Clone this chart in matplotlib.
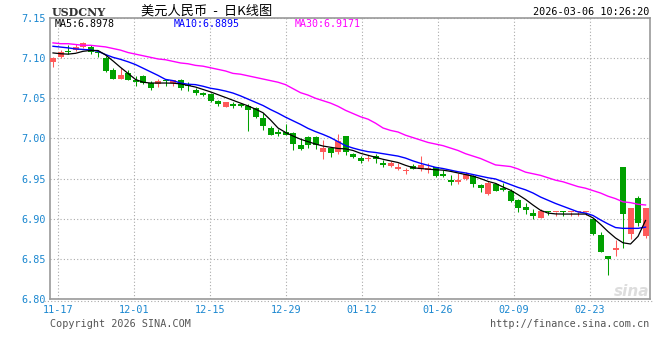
import numpy as np
import matplotlib
matplotlib.use('Agg')
import matplotlib.pyplot as plt
from matplotlib.lines import Line2D

plt.rcParams['font.family'] = ['DejaVu Sans', 'Noto Sans CJK SC']

# daily candles USDCNY, 11-17 .. 03-06
opens = [7.0954, 7.1017, 7.1077, 7.1104, 7.1138, 7.1142, 7.1069, 7.1004, 7.0854, 7.0746,
         7.0817, 7.0733, 7.0775, 7.0692, 7.0679, 7.0725, 7.0692, 7.0733, 7.0658, 7.0608,
         7.0563, 7.0554, 7.0467, 7.0396, 7.0429, 7.0425, 7.0408, 7.0383, 7.0250, 7.0133,
         7.0075, 7.0075, 7.0063, 6.9917, 7.0021, 7.0021, 6.9833, 6.9875, 6.9825, 7.0029,
         6.9804, 6.9758, 6.9738, 6.9783, 6.9696, 6.9658, 6.9617, 6.9592, 6.9658, 6.9613,
         6.9604, 6.9638, 6.9554, 6.9479, 6.9458, 6.9500, 6.9529, 6.9417, 6.9313, 6.9438,
         6.9388, 6.9346, 6.9229, 6.9146, 6.9067, 6.9004, 6.9096, 6.9087, 6.9092, 6.9087,
         6.9087, 6.9087, 6.9000, 6.8792, 6.8533, 6.8608, 6.9638, 6.8804, 6.9254, 6.8783]
closes = [7.1004, 7.1079, 7.1073, 7.1142, 7.1192, 7.1079, 7.1065, 7.0846, 7.0746, 7.0788,
          7.0733, 7.0704, 7.0692, 7.0629, 7.0721, 7.0713, 7.0725, 7.0629, 7.0650, 7.0567,
          7.0546, 7.0471, 7.0425, 7.0450, 7.0408, 7.0408, 7.0358, 7.0267, 7.0154, 7.0042,
          7.0058, 7.0042, 6.9929, 6.9867, 6.9917, 6.9917, 6.9883, 6.9821, 6.9967, 6.9825,
          6.9771, 6.9725, 6.9758, 6.9742, 6.9675, 6.9696, 6.9646, 6.9596, 6.9625, 6.9675,
          6.9633, 6.9529, 6.9533, 6.9458, 6.9488, 6.9563, 6.9429, 6.9383, 6.9446, 6.9346,
          6.9358, 6.9221, 6.9129, 6.9104, 6.9033, 6.9096, 6.9083, 6.9088, 6.9083, 6.9088,
          6.9088, 6.9089, 6.8813, 6.8583, 6.8500, 6.8638, 6.9054, 6.9129, 6.8942, 6.9129]
highs = [7.1020, 7.1096, 7.1163, 7.1171, 7.1204, 7.1163, 7.1096, 7.1025, 7.0879, 7.0871,
         7.0858, 7.0775, 7.0796, 7.0713, 7.0742, 7.0742, 7.0733, 7.0746, 7.0704, 7.0629,
         7.0575, 7.0563, 7.0479, 7.0450, 7.0458, 7.0438, 7.0425, 7.0396, 7.0313, 7.0154,
         7.0113, 7.0175, 7.0083, 7.0000, 7.0029, 7.0029, 6.9979, 6.9896, 7.0054, 7.0029,
         6.9821, 6.9779, 6.9792, 6.9800, 6.9729, 6.9717, 6.9696, 6.9633, 6.9683, 6.9779,
         6.9688, 6.9646, 6.9604, 6.9542, 6.9571, 6.9583, 6.9542, 6.9438, 6.9467, 6.9450,
         6.9450, 6.9367, 6.9242, 6.9192, 6.9117, 6.9117, 6.9096, 6.9088, 6.9092, 6.9088,
         6.9088, 6.9089, 6.9000, 6.8833, 6.8533, 6.8729, 6.9638, 6.9129, 6.9283, 6.9129]
lows = [7.0892, 7.1004, 7.1046, 7.1088, 7.1121, 7.1046, 7.1013, 7.0829, 7.0746, 7.0746,
        7.0730, 7.0650, 7.0683, 7.0608, 7.0642, 7.0658, 7.0658, 7.0608, 7.0596, 7.0546,
        7.0533, 7.0458, 7.0404, 7.0396, 7.0383, 7.0396, 7.0096, 7.0250, 7.0104, 7.0042,
        7.0033, 7.0042, 6.9854, 6.9854, 6.9875, 6.9867, 6.9750, 6.9771, 6.9800, 6.9792,
        6.9758, 6.9688, 6.9721, 6.9700, 6.9646, 6.9642, 6.9604, 6.9554, 6.9617, 6.9592,
        6.9571, 6.9521, 6.9521, 6.9417, 6.9429, 6.9479, 6.9396, 6.9333, 6.9292, 6.9346,
        6.9346, 6.9208, 6.9083, 6.9054, 6.8992, 6.9004, 6.9042, 6.9033, 6.9033, 6.9033,
        6.9033, 6.9042, 6.8792, 6.8583, 6.8296, 6.8533, 6.8638, 6.8742, 6.8908, 6.8763]

ma5 = [7.1065, 7.1055, 7.1050, 7.1060, 7.1085, 7.1096, 7.1095, 7.1040, 7.0965, 7.0885,
       7.0810, 7.0735, 7.0700, 7.0690, 7.0690, 7.0690, 7.0688, 7.0680, 7.0660, 7.0640,
       7.0610, 7.0580, 7.0545, 7.0510, 7.0475, 7.0440, 7.0405, 7.0365, 7.0320, 7.0230,
       7.0130, 7.0075, 7.0030, 6.9990, 6.9960, 6.9930, 6.9905, 6.9890, 6.9875, 6.9870,
       6.9850, 6.9815, 6.9790, 6.9765, 6.9740, 6.9720, 6.9700, 6.9665, 6.9635, 6.9625,
       6.9617, 6.9610, 6.9605, 6.9590, 6.9570, 6.9550, 6.9530, 6.9500, 6.9465, 6.9440,
       6.9395, 6.9355, 6.9300, 6.9240, 6.9170, 6.9105, 6.9070, 6.9060, 6.9058, 6.9058,
       6.9058, 6.9058, 6.9010, 6.8930, 6.8840, 6.8760, 6.8700, 6.8685, 6.8780, 6.8978]
ma10 = [7.1148, 7.1138, 7.1128, 7.1115, 7.1108, 7.1102, 7.1085, 7.1045, 7.1010, 7.0985,
        7.0955, 7.0920, 7.0875, 7.0830, 7.0785, 7.0735, 7.0720, 7.0690, 7.0675, 7.0670,
        7.0650, 7.0625, 7.0610, 7.0590, 7.0565, 7.0530, 7.0490, 7.0450, 7.0410, 7.0360,
        7.0315, 7.0265, 7.0220, 7.0175, 7.0125, 7.0085, 7.0050, 7.0010, 6.9960, 6.9910,
        6.9880, 6.9855, 6.9835, 6.9825, 6.9810, 6.9795, 6.9780, 6.9755, 6.9720, 6.9690,
        6.9665, 6.9640, 6.9625, 6.9605, 6.9585, 6.9570, 6.9550, 6.9530, 6.9510, 6.9495,
        6.9460, 6.9425, 6.9390, 6.9360, 6.9320, 6.9270, 6.9230, 6.9190, 6.9155, 6.9120,
        6.9085, 6.9070, 6.9040, 6.8985, 6.8935, 6.8890, 6.8880, 6.8880, 6.8880, 6.8895]
ma30 = [7.1190, 7.1180, 7.1180, 7.1170, 7.1160, 7.1160, 7.1150, 7.1140, 7.1120, 7.1100,
        7.1070, 7.1050, 7.1030, 7.1010, 7.0990, 7.0980, 7.0960, 7.0940, 7.0930, 7.0910,
        7.0900, 7.0880, 7.0860, 7.0840, 7.0810, 7.0800, 7.0780, 7.0760, 7.0740, 7.0720,
        7.0700, 7.0670, 7.0620, 7.0570, 7.0540, 7.0500, 7.0470, 7.0440, 7.0400, 7.0350,
        7.0310, 7.0270, 7.0240, 7.0190, 7.0130, 7.0100, 7.0080, 7.0040, 7.0010, 6.9980,
        6.9950, 6.9930, 6.9910, 6.9880, 6.9850, 6.9810, 6.9780, 6.9750, 6.9710, 6.9670,
        6.9660, 6.9650, 6.9620, 6.9580, 6.9560, 6.9540, 6.9510, 6.9480, 6.9460, 6.9430,
        6.9400, 6.9380, 6.9350, 6.9320, 6.9280, 6.9250, 6.9210, 6.9200, 6.9180, 6.9171]

date_labels = ['11-17', '12-01', '12-15', '12-29', '01-12', '01-26', '02-09', '02-23']
y_ticks = [6.80, 6.85, 6.90, 6.95, 7.00, 7.05, 7.10, 7.15]

RED = '#ff5a5a'
GREEN = '#00a000'
BLUE_TXT = '#1a87d0'
MONO = 'DejaVu Sans Mono'

fig = plt.figure(figsize=(6.6, 3.6), dpi=100)
ax = fig.add_axes([50/660, 61/360, 599.5/660, 281/360])

o = np.array(opens)
c = np.array(closes)
x = np.arange(len(c))
col = np.where(c >= o, RED, GREEN)

ax.vlines(x, lows, highs, colors=col, linewidth=0.75, zorder=2)
body_h = np.maximum(np.abs(c - o), 0.0013)
ax.bar(x, body_h, bottom=np.minimum(o, c), width=0.8, color=col, linewidth=0, zorder=3)

ax.plot(x, ma30, color='#ff00ff', lw=1.0, zorder=4)
ax.plot(x, ma10, color='#0000ff', lw=1.0, zorder=4)
ax.plot(x, ma5, color='black', lw=0.9, zorder=5)

ax.set_xlim(-0.4, 79.53)
ax.set_ylim(6.80, 7.15)

tick_pos = 0.63 + np.arange(len(date_labels)) * 76 / 7.5
ax.set_xticks(tick_pos)
ax.set_xticklabels(date_labels)
ax.set_yticks(y_ticks)
ax.set_yticklabels(['%.2f' % v for v in y_ticks])
ax.tick_params(length=0, labelsize=7.3, labelcolor=BLUE_TXT)
ax.tick_params(axis='y', pad=3)
ax.tick_params(axis='x', pad=4)
for lab in ax.get_xticklabels() + ax.get_yticklabels():
    lab.set_family(MONO)

ax.grid(True, color='#aaaaaa', linestyle=(0, (1, 2)), linewidth=0.8, zorder=0)
ax.set_axisbelow(True)
for s in ax.spines.values():
    s.set_color('#999999')
    s.set_linewidth(1.2)

# dotted line under the frame
fig.add_artist(Line2D([44/660, 652/660], [1 - 301/360] * 2, color='#aaaaaa',
                      linestyle=(0, (1, 2)), linewidth=0.8))

fig.text(52/660, 1 - 12/360, 'USDCNY', ha='left', va='center', fontsize=8,
         family='DejaVu Serif', weight='bold', color='#333333')
fig.text(207/660, 1 - 11/360, '美元人民币  -  日K线图', ha='center', va='center',
         fontsize=9.5, family=['Noto Sans CJK SC', 'DejaVu Sans'], color='black')
fig.text(649/660, 1 - 12/360, '2026-03-06 10:26:20', ha='right', va='center',
         fontsize=7.3, family=MONO, color='black')

fig.text(55/660, 1 - 24/360, 'MA5:%.4f' % ma5[-1], ha='left', va='center',
         fontsize=7.2, family=MONO, color='black')
fig.text(174/660, 1 - 24/360, 'MA10:%.4f' % ma10[-1], ha='left', va='center',
         fontsize=7.2, family=MONO, color='#0000ff')
fig.text(295/660, 1 - 24/360, 'MA30:%.4f' % ma30[-1], ha='left', va='center',
         fontsize=7.2, family=MONO, color='#ff00ff')

fig.text(50/660, 1 - 324/360, 'Copyright 2026 SINA.COM', ha='left', va='center',
         fontsize=7.3, family=MONO, color='#555555')
fig.text(649/660, 1 - 324/360, 'http://finance.sina.com.cn', ha='right', va='center',
         fontsize=7.3, family=MONO, color='#555555')

fig.text(649/660, 1 - 292/360, 'sina', ha='right', va='center', fontsize=11,
         style='italic', weight='bold', color='#dddddd')

plt.savefig('out.png', dpi=100)
